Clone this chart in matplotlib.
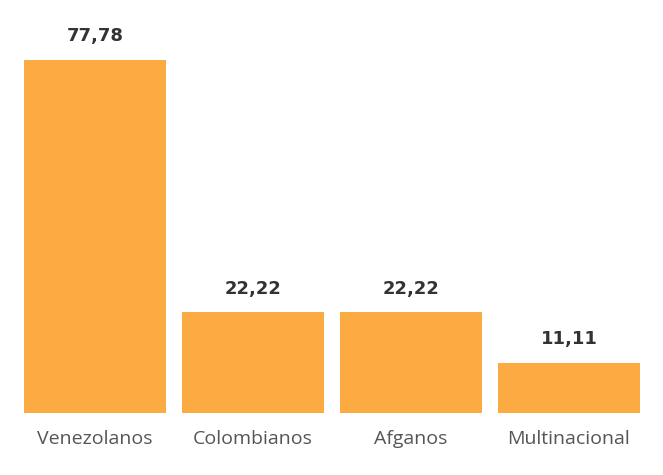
import matplotlib
matplotlib.use("Agg")
import matplotlib.pyplot as plt

categories = ["Venezolanos", "Colombianos", "Afganos", "Multinacional"]
values = [77.78, 22.22, 22.22, 11.11]
labels = ["77,78", "22,22", "22,22", "11,11"]

fig = plt.figure(figsize=(6.63, 4.75), dpi=100)
ax = fig.add_axes([24/663, (475-413)/475, 616/663, 353/475])
x = range(len(categories))
ax.bar(x, values, width=0.9, color="#FCAA42")
for xi, v, l in zip(x, values, labels):
    ax.text(xi, v + 3.2, l, ha="center", va="bottom", fontsize=13, fontweight="bold",
            color="#333333", family="Liberation Sans Narrow", clip_on=False)
ax.set_xlim(-0.45, 3.45)
ax.set_ylim(0, 77.78)
ax.set_xticks(list(x))
ax.set_xticklabels(categories, fontsize=14, color="#555555", family="Open Sans")
ax.tick_params(axis="x", length=0, pad=12)
ax.set_yticks([])
for s in ax.spines.values():
    s.set_visible(False)
fig.savefig("out.png", dpi=100)
